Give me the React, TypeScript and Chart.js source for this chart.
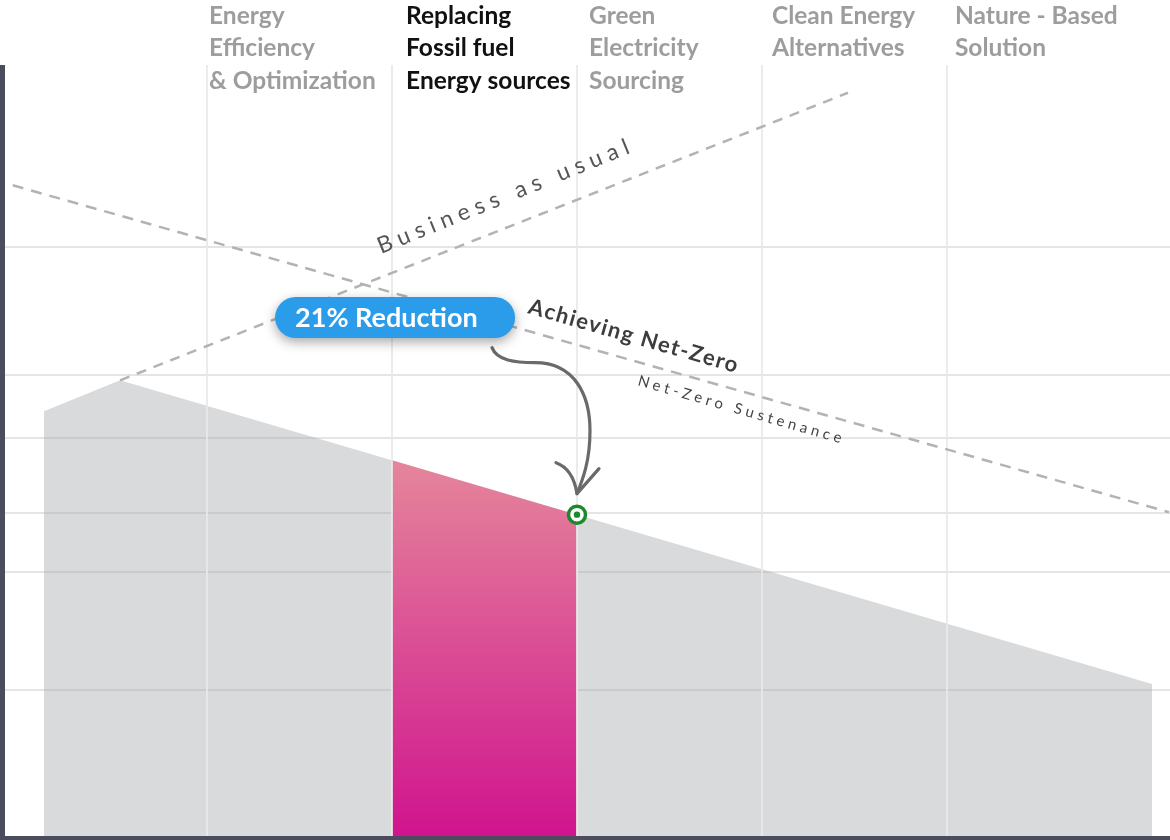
import React, { useEffect, useRef } from 'react';
import { Chart, registerables } from 'chart.js';

Chart.register(...registerables);

// ---- data ----
const phaseLabels: string[][] = [
  ['Energy', 'Efficiency', '& Optimization'],
  ['Replacing', 'Fossil fuel', 'Energy sources'],
  ['Green', 'Electricity', 'Sourcing'],
  ['Clean Energy', 'Alternatives'],
  ['Nature - Based', 'Solution'],
];
const phaseGridX = [1, 2, 3, 4, 5];
const phaseLabelX = [1.011, 2.076, 3.065, 4.054, 5.043];
const highlightedPhase = 1;

const emissionX = [0.119, 0.53, 6.108];
const emissionY = [55.1, 59.1, 19.7];
const reductionX = [2, 3];
const reductionY = [48.75, 41.68];
const bauX = [0.53, 4.465];
const bauY = [59.1, 96.4];
const netZeroX = [-0.05, 6.2];
const netZeroY = [84.4, 42.0];
const markerX = [3];
const markerY = [41.68];
const yGridValues = [18.9, 34.2, 41.9, 51.6, 59.8, 76.4];

const X_MIN = -0.0919;
const X_MAX = 6.2054;
const Y_MIN = 0;
const Y_MAX = 100;

const reductionLabel = '21% Reduction';
const bauLabel = 'Business as usual';
const netZeroLabel = 'Achieving Net-Zero';
const sustenanceLabel = 'Net-Zero Sustenance';

// annotation anchors (data coords)
const bauLabelAt = { x: 1.941, y: 75.5 };
const netZeroLabelAt = { x: 2.73, y: 67.83 };
const sustenanceLabelAt = { x: 3.324, y: 58.5 };
const pillAt = { x: 1.368, y: 67.25 };

const pts = (xs: number[], ys: number[]) => xs.map((x, i) => ({ x, y: ys[i] }));

const FONT = 'Lato, "Noto Sans", sans-serif';

const overlay = {
  id: 'overlay',
  afterDatasetDraw(chart: any, args: any) {
    const ds = chart.data.datasets[args.index];
    const { ctx, chartArea } = chart;
    const { left, right, top, bottom } = chartArea;
    const xs = chart.scales.x;
    const ys = chart.scales.y;
    if (ds.label === 'Emissions') {
      ctx.save();
      ctx.strokeStyle = 'rgba(170,170,170,0.3)';
      ctx.lineWidth = 2;
      yGridValues.forEach((v) => {
        const py = Math.round(ys.getPixelForValue(v));
        ctx.beginPath();
        ctx.moveTo(left, py);
        ctx.lineTo(right, py);
        ctx.stroke();
      });
      ctx.restore();
    }
    if (ds.label === 'Reduction') {
      ctx.save();
      ctx.strokeStyle = 'rgba(232,232,232,0.88)';
      ctx.lineWidth = 2;
      phaseGridX.forEach((v) => {
        const px = Math.round(xs.getPixelForValue(v));
        ctx.beginPath();
        ctx.moveTo(px, top);
        ctx.lineTo(px, bottom);
        ctx.stroke();
      });
      ctx.restore();
    }
  },
  afterDraw(chart: any) {
    const { ctx, chartArea, width } = chart;
    const { left, top, bottom } = chartArea;
    const xs = chart.scales.x;
    const ys = chart.scales.y;
    const P = (p: { x: number; y: number }) => ({ x: xs.getPixelForValue(p.x), y: ys.getPixelForValue(p.y) });

    ctx.save();
    // axes bars
    ctx.fillStyle = '#4b4c5e';
    ctx.fillRect(left - 5, top, 5, bottom - top + 4);
    ctx.fillRect(0, bottom, width, 4);

    // phase labels
    ctx.textAlign = 'left';
    ctx.textBaseline = 'middle';
    ctx.font = `bold 24.5px ${FONT}`;
    phaseLabels.forEach((lines, i) => {
      ctx.fillStyle = i === highlightedPhase ? '#111111' : '#9d9d9d';
      const px = xs.getPixelForValue(phaseLabelX[i]);
      lines.forEach((t, j) => ctx.fillText(t, px, 16 + j * 32.5));
    });

    const rotText = (t: string, at: any, deg: number, font: string, color: string, spacing: string) => {
      const p = P(at);
      ctx.save();
      ctx.translate(p.x, p.y);
      ctx.rotate((deg * Math.PI) / 180);
      ctx.font = font;
      (ctx as any).letterSpacing = spacing;
      ctx.fillStyle = color;
      ctx.textAlign = 'left';
      ctx.textBaseline = 'alphabetic';
      ctx.fillText(t, 0, 0);
      ctx.restore();
    };
    rotText(bauLabel, bauLabelAt, -22, `23px ${FONT}`, '#555555', '6px');
    rotText(netZeroLabel, netZeroLabelAt, 16, `bold 22px ${FONT}`, '#3d3d3d', '1.5px');
    rotText(sustenanceLabel, sustenanceLabelAt, 16, `15px ${FONT}`, '#444444', '4px');

    // arrow
    const m = P({ x: markerX[0], y: markerY[0] });
    ctx.save();
    ctx.strokeStyle = '#6a6a6a';
    ctx.lineWidth = 3.2;
    ctx.lineCap = 'round';
    ctx.lineJoin = 'round';
    ctx.beginPath();
    ctx.moveTo(m.x - 85, m.y - 167);
    ctx.bezierCurveTo(m.x - 80, m.y - 154, m.x - 62, m.y - 152, m.x - 42, m.y - 152);
    ctx.bezierCurveTo(m.x - 2, m.y - 152, m.x + 13, m.y - 119, m.x + 13, m.y - 84);
    ctx.bezierCurveTo(m.x + 13, m.y - 54, m.x + 6, m.y - 36, m.x, m.y - 21);
    ctx.stroke();
    ctx.beginPath();
    ctx.moveTo(m.x - 21, m.y - 52);
    ctx.quadraticCurveTo(m.x - 4, m.y - 46, m.x, m.y - 21);
    ctx.lineTo(m.x + 22, m.y - 46);
    ctx.stroke();
    ctx.restore();

    // pill
    const pp = P(pillAt);
    const pw = 240, ph = 41, r = 20.5;
    const px0 = pp.x, py0 = pp.y - ph / 2;
    ctx.save();
    ctx.shadowColor = 'rgba(0,0,0,0.35)';
    ctx.shadowBlur = 12;
    ctx.shadowOffsetY = 4;
    ctx.fillStyle = '#2b9cea';
    ctx.beginPath();
    ctx.moveTo(px0 + r, py0);
    ctx.lineTo(px0 + pw - r, py0);
    ctx.arc(px0 + pw - r, py0 + r, r, -Math.PI / 2, Math.PI / 2);
    ctx.lineTo(px0 + r, py0 + ph);
    ctx.arc(px0 + r, py0 + r, r, Math.PI / 2, (3 * Math.PI) / 2);
    ctx.closePath();
    ctx.fill();
    ctx.restore();
    ctx.fillStyle = '#ffffff';
    ctx.font = `bold 27px ${FONT}`;
    ctx.textAlign = 'left';
    ctx.textBaseline = 'middle';
    ctx.fillText(reductionLabel, px0 + 20, pp.y + 1);

    ctx.restore();
  },
};

export default function App() {
  const ref = useRef<HTMLCanvasElement | null>(null);
  useEffect(() => {
    document.body.style.margin = '0';
    const canvas = ref.current!;
    const chart = new Chart(canvas, {
      type: 'line',
      data: {
        datasets: [
          {
            label: 'MarkerDot',
            data: pts(markerX, markerY),
            showLine: false,
            pointRadius: 3.2,
            pointBorderWidth: 0,
            pointBackgroundColor: '#1b8a2b',
            order: 0,
          } as any,
          {
            label: 'Marker',
            data: pts(markerX, markerY),
            showLine: false,
            pointRadius: 8.5,
            pointBorderWidth: 3.5,
            pointBorderColor: '#1b8a2b',
            pointBackgroundColor: '#ffffff',
            order: 1,
          },
          {
            label: 'Business as usual',
            data: pts(bauX, bauY),
            borderColor: '#b3b3b3',
            borderWidth: 2.5,
            borderDash: [10, 8],
            pointRadius: 0,
            fill: false,
            order: 2,
          },
          {
            label: 'Net-Zero',
            data: pts(netZeroX, netZeroY),
            borderColor: '#b3b3b3',
            borderWidth: 2.5,
            borderDash: [11, 8],
            pointRadius: 0,
            fill: false,
            order: 3,
          },
          {
            label: 'Reduction',
            data: pts(reductionX, reductionY),
            borderWidth: 0,
            pointRadius: 0,
            fill: 'origin',
            backgroundColor: (c: any) => {
              const { chart: ch } = c;
              const { ctx, chartArea } = ch;
              if (!chartArea) return '#e0609a';
              const t = ch.scales.y.getPixelForValue(Math.max(...reductionY));
              const g = ctx.createLinearGradient(0, t, 0, chartArea.bottom);
              g.addColorStop(0, '#e5869b');
              g.addColorStop(1, '#d0148e');
              return g;
            },
            order: 4,
          },
          {
            label: 'Emissions',
            data: pts(emissionX, emissionY),
            borderWidth: 0,
            pointRadius: 0,
            fill: 'origin',
            backgroundColor: '#d9dadb',
            order: 5,
          },
        ],
      },
      options: {
        animation: false,
        responsive: false,
        devicePixelRatio: 1,
        layout: { autoPadding: false, padding: { left: 5, top: 65, right: 0, bottom: 4 } },
        plugins: { legend: { display: false }, tooltip: { enabled: false } },
        scales: {
          x: { type: 'linear', min: X_MIN, max: X_MAX, display: false },
          y: { type: 'linear', min: Y_MIN, max: Y_MAX, display: false },
        },
        elements: { line: { tension: 0 } },
      },
      plugins: [overlay],
    });
    return () => chart.destroy();
  }, []);
  return (
    <div style={{ position: 'fixed', left: 0, top: 0, width: 1170, height: 840, overflow: 'hidden' }}>
      <style>{'html,body{margin:0;padding:0;overflow:hidden}'}</style>
      <canvas ref={ref} width={1170} height={840} style={{ display: 'block', width: 1170, height: 840 }} />
    </div>
  );
}
